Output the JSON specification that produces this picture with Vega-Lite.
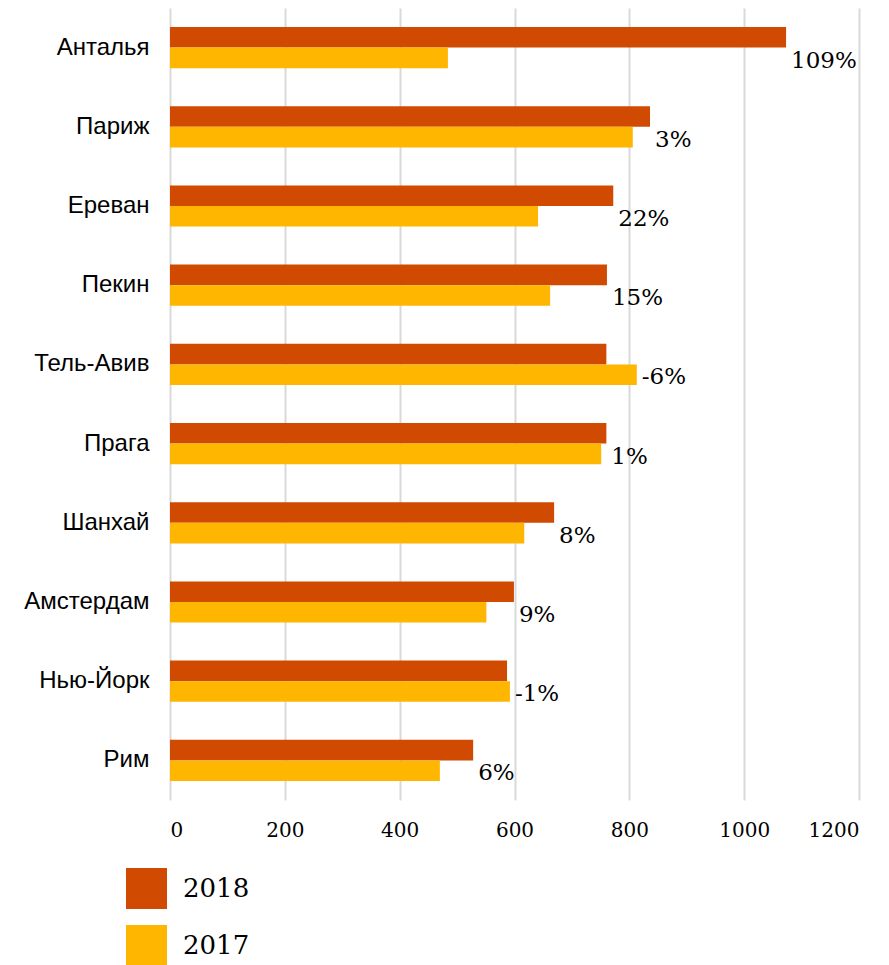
{
  "$schema": "https://vega.github.io/schema/vega-lite/v6.json",
  "autosize": {"type": "none"},
  "width": 689,
  "height": 792,
  "padding": {"left": 170, "top": 8, "right": 30, "bottom": 165},
  "background": "white",
  "data": {
    "values": [
      {"city": "Анталья", "year": "2018", "value": 1073, "change": "109%"},
      {"city": "Анталья", "year": "2017", "value": 484, "change": "109%"},
      {"city": "Париж", "year": "2018", "value": 836, "change": "3%"},
      {"city": "Париж", "year": "2017", "value": 806, "change": "3%"},
      {"city": "Ереван", "year": "2018", "value": 772, "change": "22%"},
      {"city": "Ереван", "year": "2017", "value": 641, "change": "22%"},
      {"city": "Пекин", "year": "2018", "value": 761, "change": "15%"},
      {"city": "Пекин", "year": "2017", "value": 662, "change": "15%"},
      {"city": "Тель-Авив", "year": "2018", "value": 760, "change": "-6%"},
      {"city": "Тель-Авив", "year": "2017", "value": 813, "change": "-6%"},
      {"city": "Прага", "year": "2018", "value": 760, "change": "1%"},
      {"city": "Прага", "year": "2017", "value": 751, "change": "1%"},
      {"city": "Шанхай", "year": "2018", "value": 669, "change": "8%"},
      {"city": "Шанхай", "year": "2017", "value": 617, "change": "8%"},
      {"city": "Амстердам", "year": "2018", "value": 599, "change": "9%"},
      {"city": "Амстердам", "year": "2017", "value": 551, "change": "9%"},
      {"city": "Нью-Йорк", "year": "2018", "value": 587, "change": "-1%"},
      {"city": "Нью-Йорк", "year": "2017", "value": 592, "change": "-1%"},
      {"city": "Рим", "year": "2018", "value": 528, "change": "6%"},
      {"city": "Рим", "year": "2017", "value": 470, "change": "6%"}
    ]
  },
  "encoding": {
    "y": {
      "field": "city",
      "type": "nominal",
      "scale": {
        "domain": ["Анталья", "Париж", "Ереван", "Пекин", "Тель-Авив", "Прага", "Шанхай", "Амстердам", "Нью-Йорк", "Рим"],
        "paddingInner": 0.48,
        "paddingOuter": 0.24
      },
      "axis": {
        "title": null,
        "domain": false,
        "ticks": false,
        "labelFont": "Liberation Sans",
        "labelFontSize": 24,
        "labelColor": "#000000",
        "labelPadding": 21,
        "labelLimit": 300
      }
    }
  },
  "layer": [
    {
      "mark": {"type": "bar"},
      "encoding": {
        "x": {
          "field": "value",
          "type": "quantitative",
          "scale": {"domain": [0, 1200], "nice": false},
          "axis": {
            "title": null,
            "domain": false,
            "ticks": false,
            "values": [0, 200, 400, 600, 800, 1000, 1200],
            "format": "d",
            "grid": true,
            "gridColor": "#d9d9d9",
            "gridWidth": 2,
            "labelFont": "DejaVu Serif",
            "labelFontSize": 20,
            "labelColor": "#000000",
            "labelPadding": 20
          }
        },
        "yOffset": {
          "field": "year",
          "type": "nominal",
          "scale": {"domain": ["2018", "2017"], "paddingInner": 0, "paddingOuter": 0}
        },
        "color": {
          "field": "year",
          "type": "nominal",
          "scale": {"domain": ["2018", "2017"], "range": ["#D04A02", "#FFB600"]},
          "legend": {
            "title": null,
            "orient": "none",
            "legendX": -44,
            "legendY": 860,
            "padding": 0,
            "symbolType": "square",
            "symbolSize": 1681,
            "symbolStrokeWidth": 0,
            "symbolOpacity": 1,
            "rowPadding": 16,
            "labelOffset": 16,
            "labelFont": "DejaVu Serif",
            "labelFontSize": 26,
            "labelColor": "#000000"
          }
        }
      }
    },
    {
      "transform": [
        {"aggregate": [{"op": "max", "field": "value", "as": "vmax"}], "groupby": ["city", "change"]}
      ],
      "mark": {
        "type": "text",
        "align": "left",
        "baseline": "middle",
        "dx": 5,
        "dy": 13,
        "font": "DejaVu Serif",
        "fontSize": 23,
        "color": "#000000"
      },
      "encoding": {
        "x": {"field": "vmax", "type": "quantitative"},
        "text": {"field": "change", "type": "nominal"}
      }
    }
  ],
  "config": {"view": {"stroke": null}}
}
